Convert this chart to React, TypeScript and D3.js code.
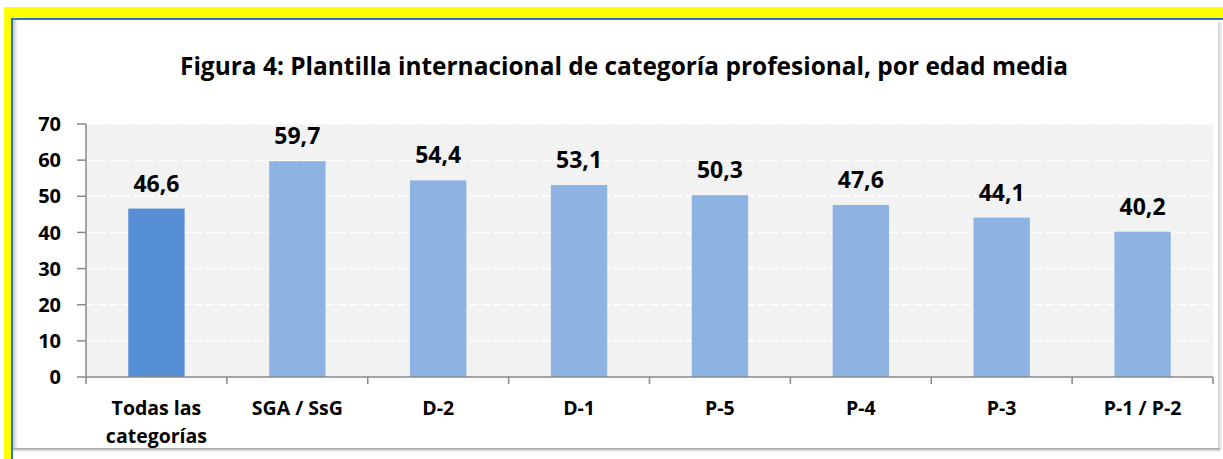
import React from 'react';
import * as d3 from 'd3';

const W = 1223;
const H = 459;

const TITLE = 'Figura 4: Plantilla internacional de categoría profesional, por edad media';
const categories = ['Todas las categorías', 'SGA / SsG', 'D-2', 'D-1', 'P-5', 'P-4', 'P-3', 'P-1 / P-2'];
const categoryLines = [['Todas las', 'categorías'], ['SGA / SsG'], ['D-2'], ['D-1'], ['P-5'], ['P-4'], ['P-3'], ['P-1 / P-2']];
const values = [46.6, 59.7, 54.4, 53.1, 50.3, 47.6, 44.1, 40.2];
const yTicks = [0, 10, 20, 30, 40, 50, 60, 70];

const FONT = '"Open Sans", "Noto Sans", sans-serif';

export default function App() {
  const left = 86;
  const right = 1213;
  const top = 124;
  const bottom = 377;

  const x = d3.scaleBand<string>()
    .domain(categories)
    .range([left, right])
    .paddingInner(0.6)
    .paddingOuter(0.3);

  const y = d3.scaleLinear().domain([0, 70]).range([bottom, top]);

  const step = x.step();
  const bounds = d3.range(categories.length + 1).map(i => left + i * step);
  const fmt = (v: number) => v.toFixed(1).replace('.', ',');
  const cx = (c: string) => (x(c) as number) + x.bandwidth() / 2;

  return (
    <svg width={W} height={H} style={{ position: 'absolute', left: 0, top: 0, display: 'block' }}>
      <defs>
        <linearGradient id="shadowR" x1="0" x2="1" y1="0" y2="0">
          <stop offset="0" stopColor="#d0d0d0" />
          <stop offset="1" stopColor="#ffffff" />
        </linearGradient>
        <linearGradient id="shadowB" x1="0" x2="0" y1="0" y2="1">
          <stop offset="0" stopColor="#a0a0a0" />
          <stop offset="1" stopColor="#ffffff" />
        </linearGradient>
        <linearGradient id="shadowL" x1="0" x2="1" y1="0" y2="0">
          <stop offset="0" stopColor="#c8c8c8" />
          <stop offset="1" stopColor="#ffffff" />
        </linearGradient>
      </defs>

      {/* frame */}
      <rect x={0} y={0} width={W} height={H} fill="#ffffff" />
      <rect x={4} y={7} width={W - 4} height={H - 7} fill="#ffff00" />
      <rect x={11} y={18} width={W - 11} height={H - 18} fill="#ffffff" />
      <rect x={11} y={18} width={W - 11} height={2} fill="#2e75b6" />
      <rect x={11} y={18} width={2} height={H - 18} fill="#2e75b6" />
      <rect x={13} y={20} width={5} height={428} fill="url(#shadowL)" />
      <rect x={1218} y={22} width={5} height={428} fill="url(#shadowR)" />
      <rect x={13} y={448} width={1207} height={4} fill="url(#shadowB)" />

      {/* title */}
      <text x={624} y={75} textAnchor="middle" fontFamily={FONT} fontWeight="bold" fontSize={25.5}
        textLength={888} lengthAdjust="spacingAndGlyphs" fill="#000">{TITLE}</text>

      {/* plot area */}
      <rect x={left} y={top} width={right - left} height={bottom - top} fill="#f2f2f2" />
      {yTicks.filter(t => t > 0).map(t => (
        <line key={t} x1={left} x2={right} y1={y(t)} y2={y(t)} stroke="#ffffff" strokeWidth={1.5} strokeDasharray="8,4" />
      ))}

      {/* bars */}
      {values.map((v, i) => (
        <rect key={categories[i]} x={x(categories[i])} y={y(v)} width={x.bandwidth()} height={y(0) - y(v)}
          fill={i === 0 ? '#558ed5' : '#8db3e2'} />
      ))}
      {values.map((v, i) => (
        <text key={'l' + i} x={cx(categories[i])} y={y(v) - 17}
          textAnchor="middle" fontFamily={FONT} fontWeight="bold" fontSize={23} fill="#000">{fmt(v)}</text>
      ))}

      {/* y axis */}
      <line x1={left} x2={left} y1={top} y2={bottom} stroke="#888888" strokeWidth={1.5} />
      {yTicks.map(t => (
        <g key={t}>
          <line x1={77} x2={left} y1={y(t)} y2={y(t)} stroke="#888888" strokeWidth={1.5} />
          <text x={61} y={y(t)} dy="0.36em" textAnchor="end" fontFamily={FONT} fontWeight="bold" fontSize={20} fill="#000">{t}</text>
        </g>
      ))}

      {/* x axis */}
      <line x1={left} x2={right} y1={bottom} y2={bottom} stroke="#888888" strokeWidth={1.5} />
      {bounds.map((b, i) => (
        <line key={i} x1={b} x2={b} y1={bottom} y2={bottom + 7} stroke="#888888" strokeWidth={1.5} />
      ))}
      {categoryLines.map((lines, i) => (
        <text key={'c' + i} x={cx(categories[i])} y={415}
          textAnchor="middle" fontFamily={FONT} fontWeight="bold" fontSize={19.5} fill="#000">
          {lines.map((ln, j) => (
            <tspan key={j} x={cx(categories[i])} dy={j === 0 ? 0 : 28}>{ln}</tspan>
          ))}
        </text>
      ))}
    </svg>
  );
}
